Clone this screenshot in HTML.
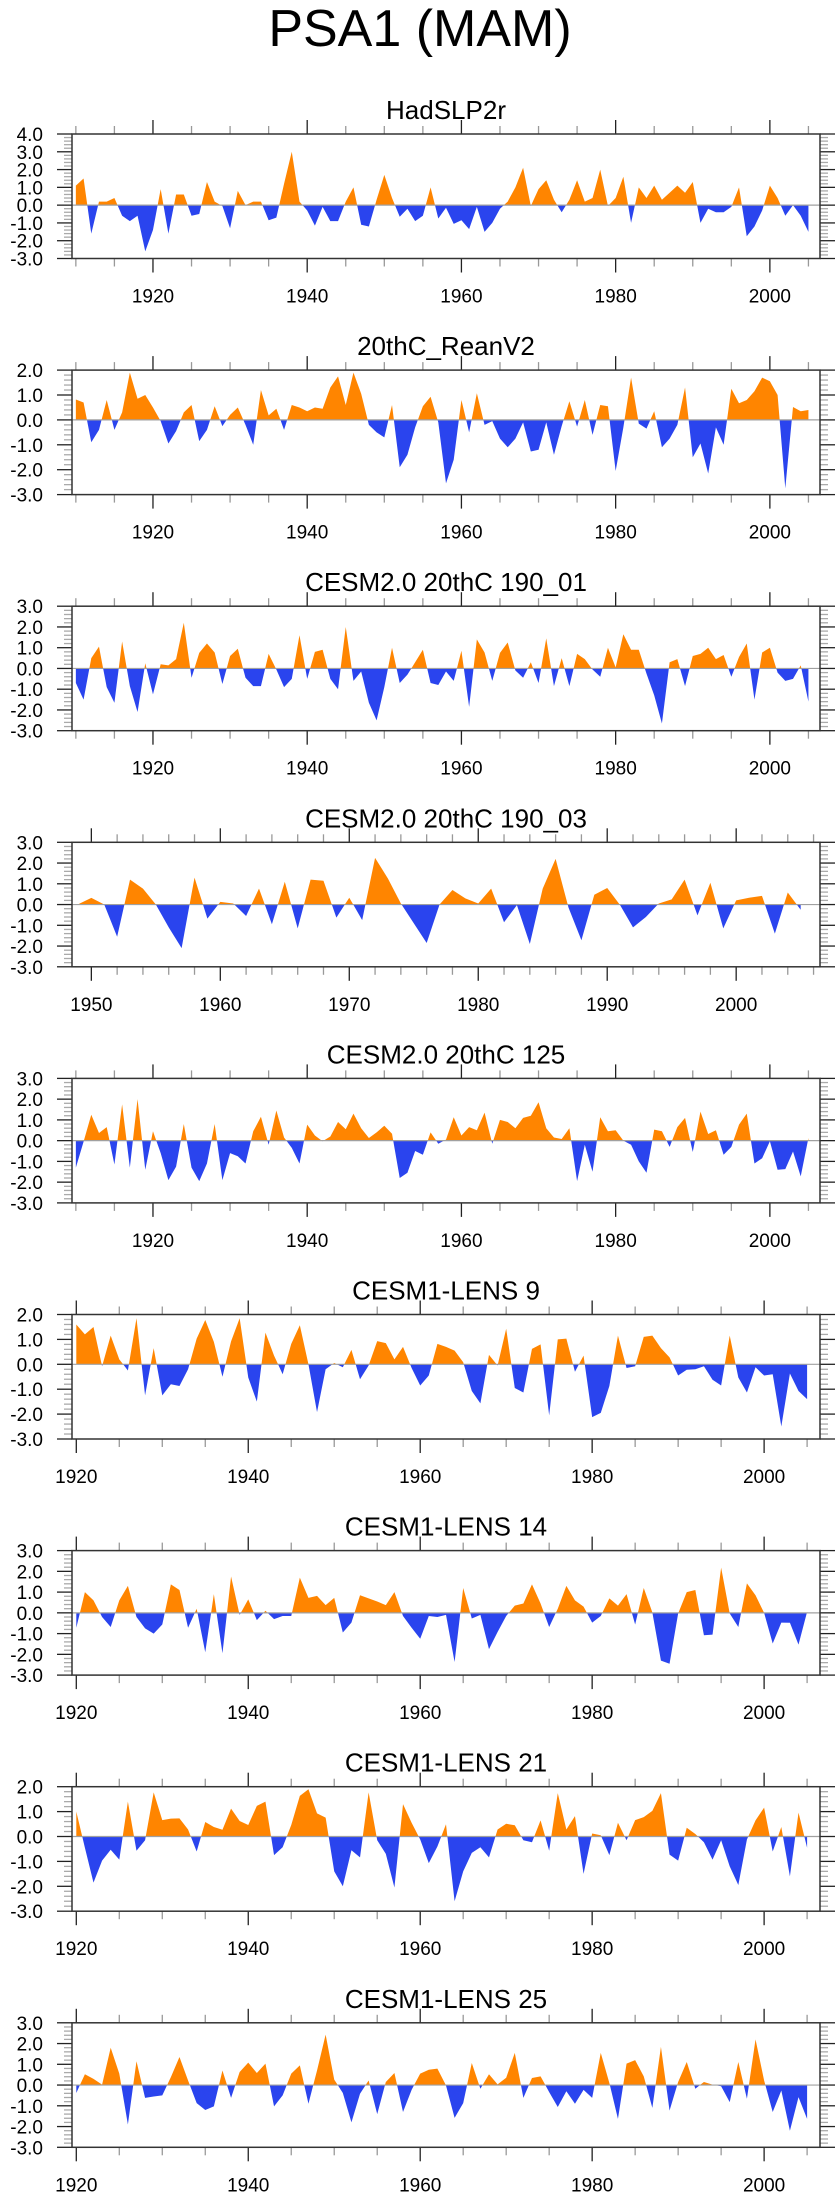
<!DOCTYPE html>
<html><head><meta charset="utf-8"><title>PSA1 (MAM)</title>
<style>
html,body{margin:0;padding:0;background:#fff;}
svg{display:block;font-family:"Liberation Sans",Arial,sans-serif;}
</style></head>
<body>
<svg id="fig" width="840" height="2200" viewBox="0 0 840 2200">
<text x="420" y="46" text-anchor="middle" font-size="52" fill="#000">PSA1 (MAM)</text>
</svg>
<script>
const panelTitles = ["HadSLP2r","20thC_ReanV2","CESM2.0 20thC 190_01","CESM2.0 20thC 190_03","CESM2.0 20thC 125","CESM1-LENS 9","CESM1-LENS 14","CESM1-LENS 21","CESM1-LENS 25"];
const startYears = [1910,1910,1910,1949,1910,1920,1920,1920,1920];
const yMins = [-3,-3,-3,-3,-3,-3,-3,-3,-3];
const yMaxs = [4,2,3,3,3,2,3,2,3];
const xTickLabels = [[1920,1940,1960,1980,2000],[1920,1940,1960,1980,2000],[1920,1940,1960,1980,2000],[1950,1960,1970,1980,1990,2000],[1920,1940,1960,1980,2000],[1920,1940,1960,1980,2000],[1920,1940,1960,1980,2000],[1920,1940,1960,1980,2000],[1920,1940,1960,1980,2000]];
const xMinorSteps = [5,5,5,2,5,5,5,5,5];

const hadslp2r = [1.1,1.5,-1.6,0.2,0.2,0.4,-0.6,-0.9,-0.6,-2.6,-1.4,0.9,-1.6,0.6,0.6,-0.6,-0.5,1.3,0.2,-0.05,-1.3,0.8,0.0,0.2,0.2,-0.85,-0.7,1.2,3.0,0.2,-0.3,-1.15,-0.1,-0.9,-0.9,0.2,1.0,-1.1,-1.2,0.3,1.7,0.4,-0.65,-0.2,-0.9,-0.6,1.0,-0.75,-0.15,-1.05,-0.85,-1.35,-0.1,-1.5,-1.0,-0.2,0.2,1.0,2.1,-0.05,0.9,1.4,0.3,-0.4,0.3,1.4,0.2,0.4,2.0,-0.05,0.4,1.6,-1.0,1.0,0.4,1.1,0.3,0.7,1.1,0.7,1.3,-1.0,-0.2,-0.4,-0.4,-0.1,1.0,-1.75,-1.2,-0.3,1.1,0.4,-0.6,0.0,-0.6,-1.5];
const reanV2 = [0.82,0.7,-0.9,-0.4,0.8,-0.4,0.3,1.9,0.85,1.0,0.5,-0.05,-0.95,-0.45,0.3,0.6,-0.85,-0.4,0.55,-0.25,0.2,0.5,-0.2,-1.0,1.2,0.18,0.45,-0.4,0.6,0.5,0.35,0.5,0.45,1.3,1.75,0.6,1.9,1.05,-0.2,-0.5,-0.7,0.6,-1.9,-1.4,-0.3,0.55,0.93,-0.1,-2.55,-1.6,0.8,-0.5,1.07,-0.2,-0.05,-0.75,-1.1,-0.75,-0.1,-1.27,-1.2,-0.1,-1.4,-0.25,0.75,-0.27,0.8,-0.6,0.6,0.55,-2.05,-0.3,1.7,-0.15,-0.35,0.35,-1.1,-0.75,-0.2,1.3,-1.5,-0.95,-2.15,-0.3,-1.0,1.25,0.67,0.8,1.15,1.7,1.55,1.0,-2.75,0.52,0.35,0.4];
const cesm2_190_01 = [-0.7,-1.5,0.5,1.05,-0.9,-1.65,1.3,-0.85,-2.1,0.25,-1.25,0.2,0.15,0.45,2.2,-0.45,0.75,1.2,0.77,-0.75,0.6,0.95,-0.45,-0.85,-0.85,0.7,-0.05,-0.9,-0.5,1.6,-0.5,0.8,0.9,-0.5,-1.0,2.0,-0.6,-0.15,-1.65,-2.5,-0.9,1.0,-0.7,-0.3,0.3,0.9,-0.7,-0.8,-0.15,-0.6,0.85,-1.85,1.4,0.77,-0.6,0.75,1.25,-0.1,-0.45,0.3,-0.7,1.45,-0.85,0.5,-0.85,0.7,0.45,-0.05,-0.4,1.0,0.05,1.65,0.9,0.9,-0.25,-1.3,-2.65,0.3,0.45,-0.85,0.6,0.7,1.0,0.45,0.65,-0.4,0.55,1.2,-1.5,0.77,1.0,-0.2,-0.6,-0.5,0.15,-1.6];
const cesm2_190_03 = [0.02,0.32,0.0,-1.55,1.2,0.77,0.0,-1.1,-2.1,1.3,-0.68,0.13,0.05,-0.55,0.77,-0.95,1.1,-1.15,1.2,1.15,-0.63,0.33,-0.75,2.25,1.25,0.05,-0.9,-1.85,0.0,0.7,0.3,0.05,0.77,-0.85,-0.03,-1.9,0.77,2.2,-0.15,-1.72,0.47,0.8,-0.03,-1.1,-0.6,0.05,0.25,1.2,-0.52,1.05,-1.15,0.2,0.33,0.42,-1.4,0.58,-0.25];
const cesm2_125 = [-1.3,-0.05,1.25,0.37,0.65,-1.15,1.75,-1.3,2.0,-1.4,0.45,-0.6,-1.9,-1.25,0.8,-1.3,-1.95,-1.1,0.8,-1.9,-0.6,-0.75,-1.1,0.45,1.15,-0.2,1.45,0.15,-0.35,-1.1,0.77,0.25,-0.03,0.2,0.9,0.55,1.3,0.6,0.13,0.4,0.72,0.33,-1.8,-1.55,-0.5,-0.68,0.4,-0.15,0.05,1.13,0.25,0.65,0.5,1.35,-0.15,1.0,0.9,0.6,1.1,1.2,1.85,0.6,0.15,0.08,0.6,-1.95,-0.2,-1.5,1.13,0.45,0.5,0.0,-0.2,-1.0,-1.55,0.53,0.45,-0.3,0.65,1.1,-0.55,1.4,0.32,0.5,-0.68,-0.3,0.77,1.3,-1.1,-0.85,-0.03,-1.4,-1.37,-0.52,-1.72,0.13];
const lens9 = [1.6,1.2,1.5,-0.08,1.15,0.2,-0.25,1.85,-1.25,0.65,-1.25,-0.8,-0.87,-0.2,1.03,1.78,0.9,-0.5,0.92,1.85,-0.53,-1.5,1.27,0.35,-0.4,0.82,1.57,0.0,-1.92,-0.2,0.05,-0.12,0.58,-0.6,-0.05,0.93,0.85,0.2,0.7,-0.15,-0.85,-0.45,0.82,0.7,0.55,0.08,-1.07,-1.57,0.38,-0.05,1.43,-0.95,-1.13,0.62,0.8,-2.05,1.0,1.03,-0.3,0.35,-2.12,-1.95,-0.87,1.15,-0.15,-0.08,1.1,1.15,0.65,0.28,-0.45,-0.22,-0.2,-0.08,-0.62,-0.85,1.15,-0.53,-1.13,-0.12,-0.45,-0.4,-2.5,-0.37,-1.07,-1.4];
const lens14 = [-0.72,1.0,0.6,-0.2,-0.68,0.6,1.3,-0.2,-0.75,-1.0,-0.56,1.37,1.1,-0.72,0.2,-1.9,0.9,-1.95,1.75,-0.1,0.65,-0.35,0.1,-0.3,-0.15,-0.15,1.7,0.72,0.82,0.37,0.72,-0.95,-0.47,0.85,0.7,0.55,0.37,1.0,-0.15,-0.72,-1.25,-0.15,-0.2,-0.1,-2.37,1.2,-0.27,-0.1,-1.75,-0.92,-0.15,0.35,0.45,1.37,0.45,-0.68,0.2,1.3,0.6,0.3,-0.47,-0.15,0.7,0.35,0.9,-0.56,1.2,0.02,-2.3,-2.45,-0.03,1.0,1.1,-1.08,-1.05,2.18,-0.03,-0.68,1.42,0.85,0.0,-1.48,-0.47,-0.48,-1.53,0.05];
const lens21 = [1.0,-0.45,-1.85,-0.97,-0.53,-0.93,1.4,-0.57,-0.15,1.77,0.66,0.72,0.73,0.28,-0.6,0.58,0.38,0.27,1.12,0.62,0.46,1.23,1.4,-0.75,-0.43,0.46,1.63,1.9,0.93,0.76,-1.4,-2.0,-0.55,-0.84,1.77,-0.15,-0.7,-2.05,1.3,0.55,-0.12,-1.07,-0.4,0.49,-2.6,-1.4,-0.66,-0.43,-0.84,0.28,0.51,0.45,-0.15,-0.23,0.65,-0.57,1.74,0.28,0.82,-1.5,0.12,0.05,-0.75,0.55,-0.15,0.66,0.78,1.03,1.74,-0.73,-0.97,0.35,0.1,-0.23,-0.93,-0.15,-1.2,-1.95,-0.12,0.65,1.16,-0.6,0.38,-1.6,0.96,-0.45];
const lens25 = [-0.38,0.52,0.3,0.02,1.8,0.55,-1.9,1.15,-0.62,-0.55,-0.5,0.38,1.35,0.22,-0.87,-1.2,-1.03,0.7,-0.62,0.63,1.08,0.58,1.03,-1.03,-0.5,0.55,0.95,-0.9,0.7,2.43,0.26,-0.38,-1.8,-0.42,0.22,-1.4,0.15,0.58,-1.3,-0.23,0.55,0.74,0.79,-0.02,-1.58,-0.87,1.06,-0.18,0.52,0.03,0.35,1.55,-0.62,0.34,0.42,-0.34,-1.06,-0.3,-0.9,-0.23,-0.62,1.55,0.1,-1.63,1.03,1.2,0.42,-1.1,1.84,-1.23,0.15,1.11,-0.18,0.15,0.02,-0.06,-0.82,1.11,-0.66,2.2,0.22,-1.3,-0.26,-2.2,-0.58,-1.63];

const seriesList = [hadslp2r, reanV2, cesm2_190_01, cesm2_190_03, cesm2_125, lens9, lens14, lens21, lens25];

const NS = "http://www.w3.org/2000/svg";
const svg = document.getElementById("fig");
const BOX_L = 72, BOX_R = 820, BOX_H = 124.5, TOP0 = 134, STEP = 236.1;
const XMAX = 2006.5;
const ORANGE = "#FF8500", BLUE = "#2A44EE";

function mk(tag, attrs, parent) {
  const e = document.createElementNS(NS, tag);
  for (const k in attrs) e.setAttribute(k, attrs[k]);
  (parent || svg).appendChild(e);
  return e;
}

for (let p = 0; p < seriesList.length; p++) {
  const data = seriesList[p];
  const y0yr = startYears[p];
  const top = TOP0 + STEP * p, bot = top + BOX_H;
  const xmin = y0yr - 0.5;
  const ymin = yMins[p], ymax = yMaxs[p];
  const xs = yr => BOX_L + (yr - xmin) / (XMAX - xmin) * (BOX_R - BOX_L);
  const ys = v => bot - (v - ymin) / (ymax - ymin) * BOX_H;

  const g = mk("g", {});
  
  

  const t = mk("text", {x: (BOX_L + BOX_R) / 2, y: top - 15, "text-anchor": "middle", "font-size": 26, fill: "#000"}, g);
  t.textContent = panelTitles[p];
  
  

  // augmented points with zero crossings
  const pts = [];
  for (let i = 0; i < data.length; i++) {
    const yr = y0yr + i, v = data[i];
    if (i > 0) {
      const pv = data[i - 1];
      if ((pv > 0 && v < 0) || (pv < 0 && v > 0)) {
        const f = pv / (pv - v);
        pts.push([yr - 1 + f, 0]);
      }
    }
    pts.push([yr, v]);
  }
  const firstYr = y0yr, lastYr = y0yr + data.length - 1;
  const build = fn => {
    let d = "M" + xs(firstYr).toFixed(2) + "," + ys(0).toFixed(2);
    for (const [yr, v] of pts) d += "L" + xs(yr).toFixed(2) + "," + ys(fn(v)).toFixed(2);
    d += "L" + xs(lastYr).toFixed(2) + "," + ys(0).toFixed(2) + "Z";
    return d;
  };
  const pos = mk("path", {d: build(v => Math.max(v, 0)), fill: ORANGE, stroke: "none"}, g);
  
  
  const neg = mk("path", {d: build(v => Math.min(v, 0)), fill: BLUE, stroke: "none"}, g);
  
  

  const zl = mk("line", {x1: BOX_L, x2: BOX_R, y1: ys(0), y2: ys(0), stroke: "#a0a0a0", "stroke-width": 1.2}, g);
  
  

  // y ticks
  const yax = mk("g", {}, g);
  
  
  for (let k = Math.round(ymin * 5); k <= Math.round(ymax * 5); k++) {
    const v = k / 5, yy = ys(v);
    const major = k % 5 === 0;
    const len = major ? 15 : 8;
    const col = major ? "#222" : "#aaa";
    mk("line", {x1: BOX_L - len, x2: BOX_L, y1: yy, y2: yy, stroke: col, "stroke-width": 1.3}, yax);
    mk("line", {x1: BOX_R, x2: BOX_R + len, y1: yy, y2: yy, stroke: col, "stroke-width": 1.3}, yax);
    if (major) {
      const lb = mk("text", {x: 43, y: yy + 7, "text-anchor": "end", "font-size": 19, fill: "#000"}, yax);
      lb.textContent = v.toFixed(1);
      
      
    }
  }
  // x ticks
  const xax = mk("g", {}, g);
  
  
  const majors = xTickLabels[p];
  const step = xMinorSteps[p];
  const majorStep = majors[1] - majors[0];
  for (let yr = Math.ceil(xmin / step) * step; yr <= XMAX; yr += step) {
    const xx = xs(yr);
    const major = ((yr - majors[0]) % majorStep + majorStep) % majorStep === 0;
    const len = major ? 14 : 8;
    const col = major ? "#222" : "#999";
    mk("line", {x1: xx, x2: xx, y1: top - len, y2: top, stroke: col, "stroke-width": 1.3}, xax);
    mk("line", {x1: xx, x2: xx, y1: bot, y2: bot + len, stroke: col, "stroke-width": 1.3}, xax);
  }
  for (const yr of majors) {
    const lb = mk("text", {x: xs(yr), y: bot + 44, "text-anchor": "middle", "font-size": 19, fill: "#000"}, xax);
    lb.textContent = yr;
    
    
  }

  const box = mk("rect", {x: BOX_L, y: top, width: BOX_R - BOX_L, height: BOX_H, fill: "none", stroke: "#333", "stroke-width": 1.5}, g);
  
  
}
</script>
</body></html>
